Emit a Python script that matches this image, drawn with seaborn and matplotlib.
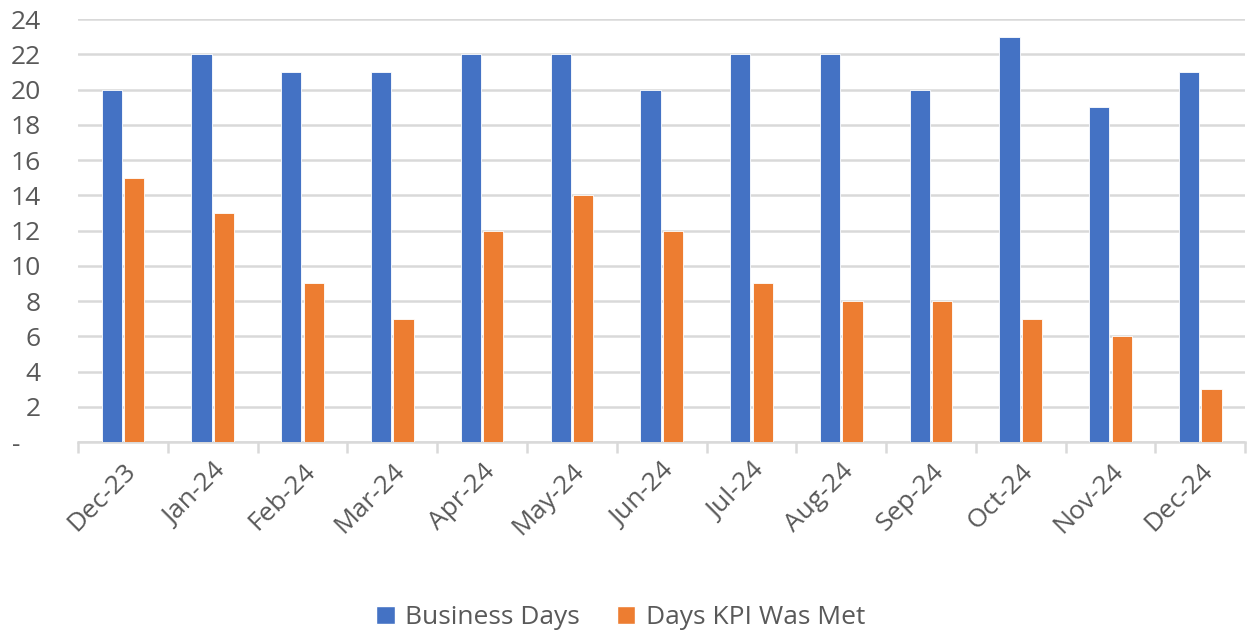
import matplotlib
matplotlib.use("Agg")
import matplotlib.pyplot as plt
import seaborn as sns
import pandas as pd
from matplotlib.patches import Patch
from matplotlib.ticker import FixedLocator

months = ["Dec-23", "Jan-24", "Feb-24", "Mar-24", "Apr-24", "May-24", "Jun-24",
          "Jul-24", "Aug-24", "Sep-24", "Oct-24", "Nov-24", "Dec-24"]
business_days = [20, 22, 21, 21, 22, 22, 20, 22, 22, 20, 23, 19, 21]
kpi_met_days = [15, 13, 9, 7, 12, 14, 12, 9, 8, 8, 7, 6, 3]
series_names = ["Business Days", "Days KPI Was Met"]
colors = ["#4472C4", "#ED7D31"]
y_ticks = list(range(0, 25, 2))

df = pd.DataFrame({
    "Month": months * 2,
    "Value": business_days + kpi_met_days,
    "Series": [series_names[0]] * len(months) + [series_names[1]] * len(months),
})

sns.set_theme(style="white")
plt.rcParams["font.family"] = ["Open Sans", "DejaVu Sans"]
text_color = "#595959"
grid_color = "#D9D9D9"
fs = 19

fig = plt.figure(figsize=(12.49, 6.37), dpi=100)
ax = fig.add_axes([0.0625, 0.306, 0.9345, 0.664])

sns.barplot(data=df, x="Month", y="Value", hue="Series", order=months,
            hue_order=series_names, palette=colors, saturation=1, width=0.5, gap=0.1,
            edgecolor="white", linewidth=0.6, ax=ax, legend=False, zorder=3)

ax.set_ylim(0, 24)
ax.set_xlim(-0.5, len(months) - 0.5)
ax.set_yticks(y_ticks)
ax.set_yticklabels(["-   " if v == 0 else str(v) for v in y_ticks])
ax.yaxis.grid(True, color=grid_color, linewidth=1.8, zorder=0)
ax.set_axisbelow(True)
for s in ["top", "right", "left"]:
    ax.spines[s].set_visible(False)
ax.spines["bottom"].set_color(grid_color)
ax.spines["bottom"].set_linewidth(1.8)
ax.set_xlabel("")
ax.set_ylabel("")

ax.tick_params(axis="y", length=0, pad=27, labelsize=fs, labelcolor=text_color)
ax.tick_params(axis="x", which="major", length=0, pad=12, labelsize=fs,
               labelcolor=text_color)
ax.xaxis.set_minor_locator(FixedLocator([i - 0.5 for i in range(len(months) + 1)]))
ax.tick_params(axis="x", which="minor", length=8, width=1.8, color=grid_color,
               bottom=True)
for lab in ax.get_xticklabels():
    lab.set_rotation(45)
    lab.set_ha("right")
    lab.set_rotation_mode("anchor")

handles = [Patch(facecolor=c, edgecolor="white", label=n) for c, n in zip(colors, series_names)]
fig.legend(handles=handles, loc="center", bbox_to_anchor=(0.497, 0.03), ncol=2,
           frameon=False, fontsize=fs, labelcolor=text_color, handlelength=0.7,
           handleheight=0.7, handletextpad=0.4, columnspacing=1.4)

fig.savefig("out.png", dpi=100)
